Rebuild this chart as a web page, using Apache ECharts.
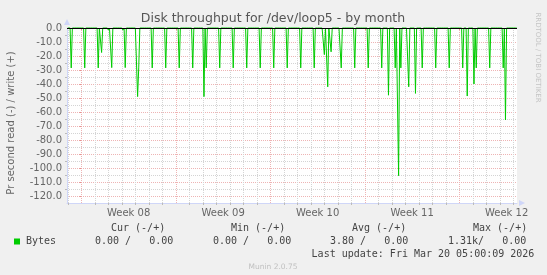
<!DOCTYPE html>
<html><head><meta charset="utf-8">
<script src="https://cdn.jsdelivr.net/npm/echarts@6/dist/echarts.min.js"></script>
<style>html,body{margin:0;padding:0;background:#f0f0f0}#c{width:547px;height:275px}</style>
</head><body><div id="c"></div>
<script>
// ---- data (x = hours since Mon 2026-02-16 00:00) ----
const chartTitle = 'Disk throughput for /dev/loop5 - by month';
const yAxisTitle = 'Pr second read (-) / write (+)';
const xRange = [-25.5, 774.5];
const dayTicks = [-24,0,24,48,72,96,120,144,168,192,216,240,264,288,312,336,360,384,408,432,456,480,504,528,552,576,600,624,648,672,696,720,744,768];
const weekStarts = [0,168,336,504,672];
const weekLabels = ['Week 08','Week 09','Week 10','Week 11','Week 12'];
const yRange = [-125, 0];
const yTicks = [0,-10,-20,-30,-40,-50,-60,-70,-80,-90,-100,-110,-120];
const yMinorTicks = [-5,-15,-25,-35,-45,-55,-65,-75,-85,-95,-105,-115];
const sampleStepHours = 2;
const spikeHours = [-18,6,30,36,48,54,74,78,100,102,126,150,174,198,218,222,246,270,294,318,342,366,390,414,432,438,444,462,486,510,534,546,558,564,568,582,594,606,630,654,678,686,698,702,726,750,754];
const readValues = [-28.5,-28.5,-28.5,-17.5,-1.5,-28.3,-1.5,-28.3,-49,-28.5,-28.5,-28.5,-28.5,-28.5,-49,-28.5,-28.5,-28.5,-28.5,-28.5,-28.5,-28.5,-28.5,-28.5,-19,-42,-17,-28.5,-28.5,-28.5,-28.5,-48,-28.5,-105.5,-28.5,-42,-46.7,-28.5,-28.5,-28.5,-28.5,-48.6,-40,-28.5,-28.5,-28.5,-65.7];
const seriesName = 'Bytes';
const legendHeaders = ['Cur (-/+)','Min (-/+)','Avg (-/+)','Max (-/+)'];
const legendValues = ['0.00 /   0.00','0.00 /   0.00','3.80 /   0.00','1.31k/   0.00'];
const lastUpdate = 'Last update: Fri Mar 20 05:00:09 2026';
const watermark = 'RRDTOOL / TOBI OETIKER';
const footer = 'Munin 2.0.75';

// ---- build ----
const spikeMap = new Map(spikeHours.map((h, i) => [h, readValues[i]]));
const readData = [];
for (let t = dayTicks[0]; t <= xRange[1]; t += sampleStepHours) {
  readData.push([t, spikeMap.has(t) ? spikeMap.get(t) : 0]);
}
const weekMids = weekStarts.map(w => w + 84);
const minorDays = dayTicks.filter(d => weekStarts.indexOf(d) < 0);

const GREEN = '#00cc00', AXIS = '#CFD6F8', FONT = '#666666';
const GRAY_GRID = '#d4d4d4', RED_GRID = '#eeb4b4';

const headerX = [111, 231, 352, 473];
const valueX = [95, 213, 330, 448];
const graphics = [
  {type:'text', x:273, y:19, style:{text:chartTitle, align:'center', verticalAlign:'middle', font:'12.5px "DejaVu Sans"', fill:'#555'}},
  {type:'text', x:11.5, y:123, rotation:Math.PI/2, style:{text:yAxisTitle, align:'center', verticalAlign:'middle', font:'10px "DejaVu Sans"', fill:FONT}},
  {type:'text', x:537.5, y:57.5, rotation:-Math.PI/2, style:{text:watermark, align:'center', verticalAlign:'middle', font:'7px "DejaVu Sans"', fill:'#c4c4c4'}},
  {type:'rect', shape:{x:14, y:238.5, width:6, height:6}, style:{fill:GREEN}},
  {type:'text', x:26, y:241.5, style:{text:seriesName, verticalAlign:'middle', font:'10px "DejaVu Sans Mono"', fill:'#444'}},
  {type:'text', x:311.6, y:254, style:{text:lastUpdate, verticalAlign:'middle', font:'10px "DejaVu Sans Mono"', fill:'#444'}},
  {type:'text', x:273, y:267, style:{text:footer, align:'center', verticalAlign:'middle', font:'7.5px "DejaVu Sans"', fill:'#c0c0c0'}}
];
legendHeaders.forEach((h, i) => graphics.push({type:'text', x:headerX[i], y:228.6, style:{text:h, verticalAlign:'middle', font:'10px "DejaVu Sans Mono"', fill:'#444'}}));
legendValues.forEach((v, i) => graphics.push({type:'text', x:valueX[i], y:241.5, style:{text:v, verticalAlign:'middle', font:'10px "DejaVu Sans Mono"', fill:'#444'}}));

const chart = echarts.init(document.getElementById('c'), null, {renderer:'canvas'});
chart.setOption({
  animation: false,
  backgroundColor: '#f0f0f0',
  grid: {left:67, top:28, width:450, height:175, show:true, backgroundColor:'#ffffff', borderWidth:0, containLabel:false, outerBoundsMode:'none'},
  xAxis: [
    {type:'value', min:xRange[0], max:xRange[1], position:'bottom',
     axisLine:{show:true, onZero:false, lineStyle:{color:AXIS, width:1}, symbol:['none','triangle'], symbolSize:[6,6], symbolOffset:[0,5]},
     axisTick:{show:true, customValues:minorDays, length:2, lineStyle:{color:'#bbbbbb'}},
     axisLabel:{show:true, customValues:weekMids, formatter:v => weekLabels[weekMids.indexOf(v)] || '', color:FONT, fontSize:10, fontFamily:'DejaVu Sans', margin:5},
     splitLine:{show:true, lineStyle:{color:GRAY_GRID, width:1, type:[1,1]}}},
    {type:'value', min:xRange[0], max:xRange[1], position:'bottom',
     axisLine:{show:false},
     axisTick:{show:true, customValues:weekStarts, length:2, lineStyle:{color:'#e89090'}},
     axisLabel:{show:false},
     splitLine:{show:true, lineStyle:{color:RED_GRID, width:1, type:[1,1]}}}
  ],
  yAxis: [
    {type:'value', min:yRange[0], max:yRange[1], position:'left',
     axisLine:{show:true, onZero:false, lineStyle:{color:AXIS, width:1}, symbol:['none','triangle'], symbolSize:[6,6], symbolOffset:[0,6]},
     axisTick:{show:true, customValues:yMinorTicks, length:2, lineStyle:{color:'#bbbbbb'}},
     axisLabel:{show:false},
     splitLine:{show:true, lineStyle:{color:GRAY_GRID, width:1, type:[1,1]}}},
    {type:'value', min:yRange[0], max:yRange[1], position:'left',
     axisLine:{show:false},
     axisTick:{show:true, customValues:yTicks, length:2, lineStyle:{color:'#e89090'}},
     axisLabel:{show:true, customValues:yTicks, formatter:v => Number(v).toFixed(1), color:FONT, fontSize:10, fontFamily:'DejaVu Sans', margin:5},
     splitLine:{show:true, lineStyle:{color:RED_GRID, width:1, type:[1,1]}}}
  ],
  series: [{
    name: seriesName, type:'line', xAxisIndex:0, yAxisIndex:0, data:readData,
    showSymbol:false, symbol:'none', clip:false,
    lineStyle:{color:GREEN, width:1}, itemStyle:{color:GREEN},
    markLine:{silent:true, symbol:['none','none'], label:{show:false}, animation:false,
      lineStyle:{color:'#000000', type:'solid', width:1}, data:[{yAxis:0}]}
  }],
  graphic: graphics
});
</script></body></html>
